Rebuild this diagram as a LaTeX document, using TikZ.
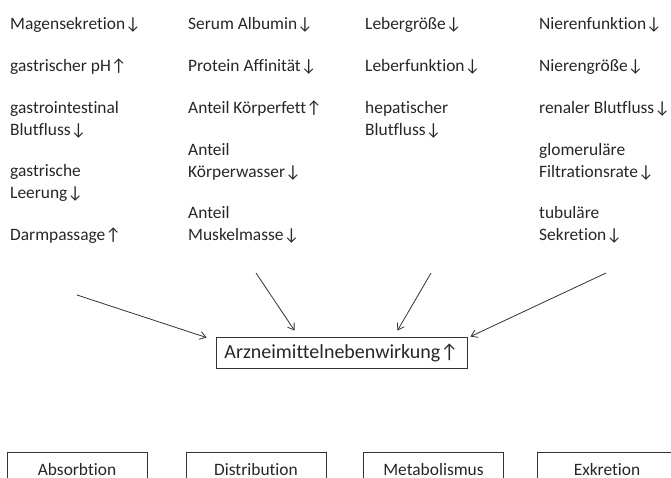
\documentclass[tikz,border=0pt]{standalone}
\usepackage{fontspec}
\setmainfont{Carlito}[Ligatures=NoCommon]
\usetikzlibrary{arrows.meta,calc}
\newcommand{\arrdn}{↓}
\newcommand{\arrup}{↑}
\begin{document}
\begin{tikzpicture}[x=1pt, y=-1pt,
    every node/.style={font=\fontsize{17.4}{21.5}\selectfont, text=black!85},
    item/.style={anchor=base west, align=left, inner sep=0pt},
    phase/.style={draw=black!80, line width=0.9pt, minimum width=140pt, minimum height=35pt, inner sep=0pt},
    arr/.style={-{Straight Barb[length=6pt,width=8pt]}, line width=0.8pt, black!80}]
    \clip (0,0) rectangle (671,477);
    % Absorption
    \node[item] (mag) at (10,29) {Magensekretion\arrdn};
    \node[item] (gph) at (10,71) {gastrischer pH\arrup};
    \node[item] (gib) at (10,135) {gastrointestinal\\Blutfluss\arrdn};
    \node[item] (gle) at (10,198) {gastrische\\Leerung\arrdn};
    \node[item] (dpa) at (10,240) {Darmpassage\arrup};
    % Distribution
    \node[item] (alb) at (188,29) {Serum Albumin\arrdn};
    \node[item] (pro) at (188,71) {Protein Affinität\arrdn};
    \node[item] (kfe) at (188,113) {Anteil Körperfett\arrup};
    \node[item] (kwa) at (188,177) {Anteil\\Körperwasser\arrdn};
    \node[item] (mus) at (188,240) {Anteil\\Muskelmasse\arrdn};
    % Metabolismus
    \node[item] (lgr) at (365,29) {Lebergröße\arrdn};
    \node[item] (lfu) at (365,71) {Leberfunktion\arrdn};
    \node[item] (hbf) at (365,135) {hepatischer\\Blutfluss\arrdn};
    % Exkretion
    \node[item] (nfu) at (539,29) {Nierenfunktion\arrdn};
    \node[item] (ngr) at (539,71) {Nierengröße\arrdn};
    \node[item] (rbf) at (539,113) {renaler Blutfluss\arrdn};
    \node[item] (gfr) at (539,177) {glomeruläre\\Filtrationsrate\arrdn};
    \node[item] (tse) at (539,240) {tubuläre\\Sekretion\arrdn};
    % Nebenwirkung
    \node[draw=black!80, line width=0.9pt, minimum width=251pt, minimum height=31pt, inner sep=0pt,
        font=\fontsize{20}{24}\selectfont] (ame) at (341.5,352.5) {Arzneimittelnebenwirkung\arrup};
    \coordinate (s1) at (77,295);
    \coordinate (s2) at (256,273);
    \coordinate (s3) at (431,273);
    \coordinate (s4) at (606,273);
    \coordinate (e1) at ($(ame.north west)+(-9,1)$);
    \coordinate (e2) at ($(ame.north west)+(79,-6)$);
    \coordinate (e3) at ($(ame.north east)+(-70,-6)$);
    \coordinate (e4) at ($(ame.north east)+(3,0)$);
    \draw[arr] (s1) -- (e1);
    \draw[arr] (s2) -- (e2);
    \draw[arr] (s3) -- (e3);
    \draw[arr] (s4) -- (e4);
    % Phasen
    \node[phase] (abs) at (77,470) {Absorbtion};
    \node[phase] (dis) at (256,470) {Distribution};
    \node[phase] (met) at (433.5,470) {Metabolismus};
    \node[phase] (exk) at (607,470) {Exkretion};
\end{tikzpicture}
\end{document}
